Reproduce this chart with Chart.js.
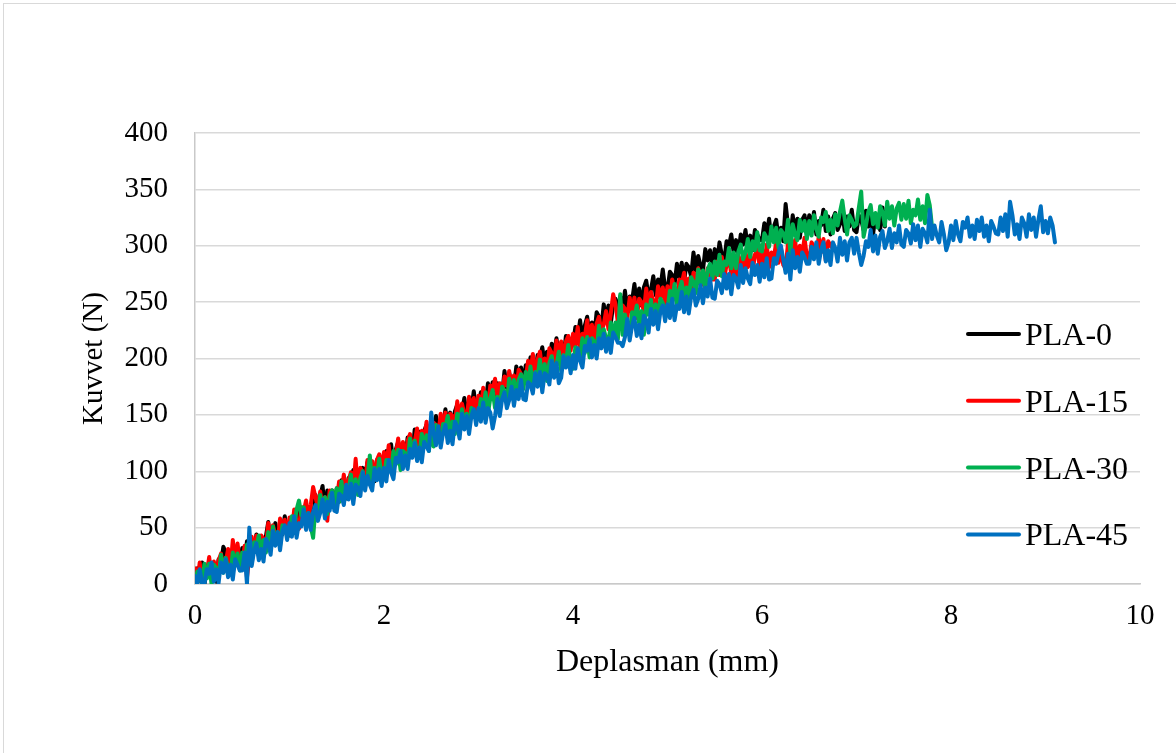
<!DOCTYPE html>
<html>
<head>
<meta charset="utf-8">
<script src="https://cdn.jsdelivr.net/npm/chart.js@4.4.1/dist/chart.umd.min.js"></script>
<style>
  html, body { margin: 0; padding: 0; background: #ffffff; overflow: hidden; }
  #wrap { position: relative; width: 1176px; height: 753px; }
</style>
</head>
<body>
<div id="wrap"><canvas id="chart"></canvas></div>
<script>
// Displacement (mm) at each sample, shared by all four specimens (one row = 0.5 mm)
const DISP = [
  0,0.025,0.05,0.075,0.1,0.125,0.15,0.175,0.2,0.225,0.25,0.275,0.3,0.325,0.35,0.375,0.4,0.425,0.45,0.475,
  0.5,0.525,0.55,0.575,0.6,0.625,0.65,0.675,0.7,0.725,0.75,0.775,0.8,0.825,0.85,0.875,0.9,0.925,0.95,0.975,
  1,1.025,1.05,1.075,1.1,1.125,1.15,1.175,1.2,1.225,1.25,1.275,1.3,1.325,1.35,1.375,1.4,1.425,1.45,1.475,
  1.5,1.525,1.55,1.575,1.6,1.625,1.65,1.675,1.7,1.725,1.75,1.775,1.8,1.825,1.85,1.875,1.9,1.925,1.95,1.975,
  2,2.025,2.05,2.075,2.1,2.125,2.15,2.175,2.2,2.225,2.25,2.275,2.3,2.325,2.35,2.375,2.4,2.425,2.45,2.475,
  2.5,2.525,2.55,2.575,2.6,2.625,2.65,2.675,2.7,2.725,2.75,2.775,2.8,2.825,2.85,2.875,2.9,2.925,2.95,2.975,
  3,3.025,3.05,3.075,3.1,3.125,3.15,3.175,3.2,3.225,3.25,3.275,3.3,3.325,3.35,3.375,3.4,3.425,3.45,3.475,
  3.5,3.525,3.55,3.575,3.6,3.625,3.65,3.675,3.7,3.725,3.75,3.775,3.8,3.825,3.85,3.875,3.9,3.925,3.95,3.975,
  4,4.025,4.05,4.075,4.1,4.125,4.15,4.175,4.2,4.225,4.25,4.275,4.3,4.325,4.35,4.375,4.4,4.425,4.45,4.475,
  4.5,4.525,4.55,4.575,4.6,4.625,4.65,4.675,4.7,4.725,4.75,4.775,4.8,4.825,4.85,4.875,4.9,4.925,4.95,4.975,
  5,5.025,5.05,5.075,5.1,5.125,5.15,5.175,5.2,5.225,5.25,5.275,5.3,5.325,5.35,5.375,5.4,5.425,5.45,5.475,
  5.5,5.525,5.55,5.575,5.6,5.625,5.65,5.675,5.7,5.725,5.75,5.775,5.8,5.825,5.85,5.875,5.9,5.925,5.95,5.975,
  6,6.025,6.05,6.075,6.1,6.125,6.15,6.175,6.2,6.225,6.25,6.275,6.3,6.325,6.35,6.375,6.4,6.425,6.45,6.475,
  6.5,6.525,6.55,6.575,6.6,6.625,6.65,6.675,6.7,6.725,6.75,6.775,6.8,6.825,6.85,6.875,6.9,6.925,6.95,6.975,
  7,7.025,7.05,7.075,7.1,7.125,7.15,7.175,7.2,7.225,7.25,7.275,7.3,7.325,7.35,7.375,7.4,7.425,7.45,7.475,
  7.5,7.525,7.55,7.575,7.6,7.625,7.65,7.675,7.7,7.725,7.75,7.775,7.8,7.825,7.85,7.875,7.9,7.925,7.95,7.975,
  8,8.025,8.05,8.075,8.1,8.125,8.15,8.175,8.2,8.225,8.25,8.275,8.3,8.325,8.35,8.375,8.4,8.425,8.45,8.475,
  8.5,8.525,8.55,8.575,8.6,8.625,8.65,8.675,8.7,8.725,8.75,8.775,8.8,8.825,8.85,8.875,8.9,8.925,8.95,8.975,
  9,9.025,9.05,9.075,9.1
];

// Force (N) per specimen, same sampling as DISP
const PLA_0 = [
  0,14,3,19,0,13,20,4,14,2,22,18,33,28,14,26,10,26,31,17,
  32,20,38,19,33,29,44,27,41,27,42,55,35,41,54,37,51,44,60,44,
  43,59,57,49,68,55,68,51,68,66,58,79,64,77,87,64,83,74,83,69,
  85,73,92,81,76,94,90,101,85,97,85,103,95,108,93,104,91,110,106,102,
  102,118,108,124,105,119,126,110,121,109,130,126,115,137,123,135,120,136,141,128,
  143,131,149,130,144,140,155,138,152,138,153,159,146,152,165,148,162,155,171,155,
  154,170,168,160,178,166,179,161,178,176,168,189,174,187,178,174,193,183,192,178,
  194,182,201,190,185,203,200,210,195,206,195,213,204,218,202,214,201,220,216,212,
  212,228,218,234,216,229,237,221,232,220,241,237,226,248,234,247,231,248,253,240,
  255,243,260,241,255,251,266,248,262,247,263,269,255,261,273,256,270,263,279,262,
  261,277,274,266,284,272,285,267,284,281,273,294,278,291,282,278,297,287,296,281,
  297,285,303,292,286,304,300,310,294,305,293,310,301,314,298,309,296,314,310,305,
  305,320,309,324,305,317,323,307,316,304,337,318,307,327,313,324,307,323,327,313,
  327,314,330,310,322,318,332,313,326,310,324,329,314,319,331,313,326,317,332,314,
  312,327,323,314,331,317,329,310,326,322,314,334,317
];
const PLA_15 = [
  14,2,19,0,13,9,24,6,20,5,21,27,13,19,31,14,39,20,36,19,
  18,34,6,24,42,30,43,25,43,40,33,54,38,52,43,38,58,48,57,43,
  59,47,66,55,49,68,64,74,59,70,86,77,68,82,66,77,56,83,79,75,
  75,91,81,97,79,92,99,84,111,83,103,99,89,110,97,109,93,110,115,102,
  117,105,123,104,117,114,129,111,126,111,127,133,119,126,138,121,136,128,144,128,
  127,143,141,133,151,139,152,134,151,149,141,162,147,160,151,147,166,156,165,151,
  167,155,174,163,157,176,172,182,166,178,166,184,176,189,173,185,172,190,186,182,
  182,198,188,204,185,199,206,190,200,189,209,205,195,216,202,215,199,215,220,207,
  222,210,228,209,222,219,234,216,230,216,231,237,224,230,242,226,240,257,248,232,
  231,247,244,236,254,241,254,236,253,250,242,262,246,259,250,245,264,254,263,248,
  264,252,270,259,252,270,266,276,260,271,259,276,267,280,264,275,262,280,275,270,
  270,286,274,290,271,283,290,274,283,271,291,286,275,295,281,293,276,292,297,282,
  297,284,301,281,294,289,303,285,298,283,280,302,288,293,305,287,300,292,307,290,
  288,303,299,291,308,294,306,287,304,300,298
];
const PLA_30 = [
  0,11,8,0,18,5,18,0,17,14,6,26,10,23,14,9,28,18,27,12,
  28,16,35,24,18,37,33,43,28,39,28,46,37,51,35,46,34,52,48,44,
  44,60,50,66,74,61,68,52,63,51,41,68,57,79,65,77,62,78,83,70,
  85,73,91,72,85,82,97,79,93,79,94,100,87,93,114,89,103,95,111,95,
  94,110,108,100,118,106,119,101,118,116,108,129,114,127,118,114,133,123,132,118,
  134,122,141,130,124,142,139,149,133,144,133,151,142,155,140,151,138,156,153,148,
  148,164,154,170,151,165,172,156,166,155,175,171,161,182,168,181,165,181,186,173,
  188,176,193,174,188,184,199,181,195,180,196,202,188,194,206,189,203,196,212,195,
  191,210,208,200,218,205,219,201,218,215,208,229,213,226,218,213,232,222,232,217,
  257,221,239,228,222,241,237,247,231,242,221,248,239,252,236,248,235,253,249,244,
  244,260,250,266,248,261,268,253,263,252,272,268,258,279,266,278,262,279,284,271,
  286,274,292,273,286,283,298,280,294,280,295,301,288,294,306,290,304,296,312,296,
  295,311,307,299,317,303,316,298,314,311,303,323,293,319,310,305,323,313,322,306,
  322,309,327,315,308,325,321,330,313,323,311,328,318,330,340,324,310,327,323,317,
  319,334,348,308,318,330,336,319,329,316,335,330,318,339,324,335,318,333,338,323,
  337,324,340,320,332,327,341,323,335,320,345,336,316
];
const PLA_45 = [
  7,0,13,1,0,13,9,19,2,13,1,19,10,22,6,17,4,22,17,12,
  12,28,0,50,16,29,36,21,31,20,40,36,26,47,34,46,30,47,52,39,
  54,42,60,41,54,51,66,48,63,48,64,70,56,63,75,58,73,65,81,65,
  64,80,78,70,88,75,89,71,88,85,78,99,83,96,88,83,102,92,102,87,
  103,91,110,99,93,112,108,118,102,114,102,120,112,125,109,121,108,126,122,118,
  152,134,123,140,121,134,141,125,136,124,144,140,129,151,137,149,133,149,155,141,
  156,144,161,143,156,152,138,149,164,149,164,170,156,163,175,158,172,164,181,164,
  163,179,177,169,187,175,188,170,187,185,177,198,183,196,178,183,202,192,201,187,
  203,191,209,198,192,211,207,217,201,212,200,218,209,222,206,218,205,223,219,214,
  214,211,219,235,216,229,236,220,230,218,238,234,223,244,230,242,226,242,247,233,
  248,236,253,234,247,244,259,241,255,240,255,261,247,253,265,249,263,255,271,254,
  253,269,266,258,275,262,275,257,274,271,263,283,267,280,271,266,285,274,283,268,
  284,272,289,270,271,289,284,294,300,288,276,293,270,296,280,290,277,294,290,284,
  284,299,288,303,284,296,303,286,296,283,303,298,286,307,292,304,287,303,307,293,
  307,294,283,291,304,299,314,295,309,293,308,313,298,304,315,298,311,303,318,301,
  299,314,311,302,319,305,318,299,315,311,303,332,306,318,309,303,321,310,296,303,
  318,305,322,310,304,321,316,325,308,318,306,323,313,325,308,318,304,322,317,311,
  310,325,313,328,308,339,327,310,319,306,325,320,308,328,314,325,308,323,335,312,
  322,311,325,318,303
];

const SERIES_NAMES  = ['PLA-0', 'PLA-15', 'PLA-30', 'PLA-45'];
const SERIES_VALUES = [PLA_0, PLA_15, PLA_30, PLA_45];
const SERIES_COLORS = ['#000000', '#FF0000', '#00B050', '#0070C0'];

const X_TICKS = [0, 2, 4, 6, 8, 10];
const Y_TICKS = [0, 50, 100, 150, 200, 250, 300, 350, 400];

const X_TITLE = 'Deplasman (mm)';
const Y_TITLE = 'Kuvvet (N)';

const FONT_FAMILY = "'Liberation Serif', 'Times New Roman', serif";
const TICK_SIZE = 29;
const TEXT_SIZE = 32;

Chart.defaults.font.family = FONT_FAMILY;
Chart.defaults.font.size = TICK_SIZE;
Chart.defaults.color = '#000000';

// Light outer frame around the whole figure
const frame = {
  id: 'frame',
  beforeDraw(chart) {
    const ctx = chart.ctx;
    ctx.save();
    ctx.fillStyle = '#ffffff';
    ctx.fillRect(0, 0, chart.width, chart.height);
    ctx.strokeStyle = '#d9d9d9';
    ctx.lineWidth = 1;
    ctx.strokeRect(3.5, 3.5, chart.width + 20, chart.height + 20);
    ctx.restore();
  }
};

// Vertical legend placed inside the plot, to the right of the curves
const sideLegend = {
  id: 'sideLegend',
  afterDatasetsDraw(chart) {
    const ctx = chart.ctx;
    const area = chart.chartArea;
    const x0 = area.left + 773;
    const y0 = area.top + 201;
    const step = 66.8;
    ctx.save();
    chart.data.datasets.forEach((ds, i) => {
      const y = y0 + i * step;
      ctx.strokeStyle = ds.borderColor;
      ctx.lineWidth = 4;
      ctx.lineCap = 'round';
      ctx.beginPath();
      ctx.moveTo(x0, y);
      ctx.lineTo(x0 + 51, y);
      ctx.stroke();
      ctx.fillStyle = '#000000';
      ctx.font = TEXT_SIZE + 'px ' + FONT_FAMILY;
      ctx.textAlign = 'left';
      ctx.textBaseline = 'alphabetic';
      ctx.fillText(ds.label, x0 + 57, y + 11);
    });
    ctx.restore();
  }
};

const datasets = SERIES_NAMES.map((name, s) => ({
  label: name,
  data: SERIES_VALUES[s].map((v, i) => ({ x: DISP[i], y: v })),
  borderColor: SERIES_COLORS[s],
  backgroundColor: SERIES_COLORS[s],
  borderWidth: 4,
  pointRadius: 0,
  tension: 0,
  fill: false,
  order: SERIES_NAMES.length - s,
  borderJoinStyle: 'round',
  borderCapStyle: 'round'
}));

new Chart(document.getElementById('chart'), {
  type: 'line',
  data: { datasets },
  plugins: [frame, sideLegend],
  options: {
    responsive: true,
    maintainAspectRatio: false,
    animation: false,
    layout: { padding: { top: 133, right: 36, bottom: 0, left: 0 } },
    plugins: {
      legend: { display: false },
      tooltip: { enabled: false }
    },
    scales: {
      x: {
        type: 'linear',
        min: 0,
        max: 10,
        afterBuildTicks: (scale) => { scale.ticks = X_TICKS.map(v => ({ value: v })); },
        afterFit: (scale) => { scale.height = 169; },
        grid: { display: false, drawTicks: false },
        border: { display: true, color: '#c9c9c9', width: 1.5 },
        ticks: { padding: 15, maxRotation: 0, autoSkip: false, color: '#000000' },
        title: { display: true, text: X_TITLE, font: { size: TEXT_SIZE }, padding: { top: 0, bottom: 71 }, color: '#000000' }
      },
      y: {
        type: 'linear',
        min: 0,
        max: 400,
        afterBuildTicks: (scale) => { scale.ticks = Y_TICKS.map(v => ({ value: v })); },
        afterFit: (scale) => { scale.width = 195; },
        grid: { display: true, drawTicks: false, color: '#d9d9d9', lineWidth: 1.5 },
        border: { display: true, color: '#c9c9c9', width: 1.5 },
        ticks: { padding: 27, autoSkip: false, color: '#000000' },
        title: { display: true, text: Y_TITLE, padding: { top: 77, bottom: 0 }, color: '#000000' }
      }
    }
  }
});
</script>
</body>
</html>
